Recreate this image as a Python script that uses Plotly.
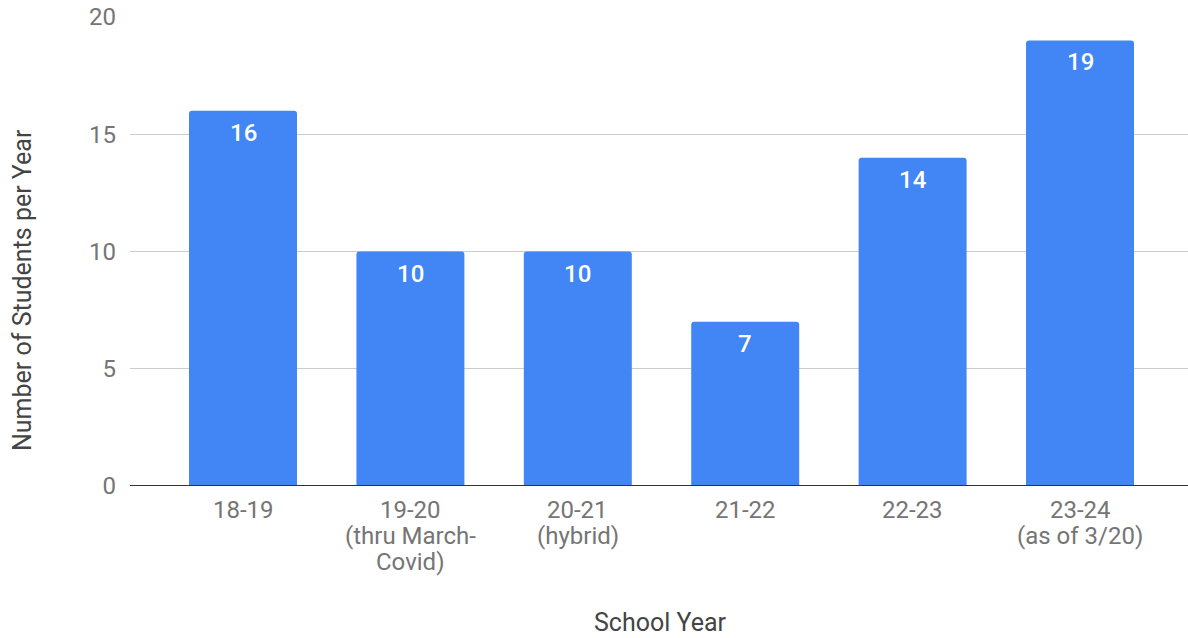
import plotly.graph_objects as go

# School years (one list of lines per category) and student counts
school_years = [
    ["18-19"],
    ["19-20", "(thru March-", "Covid)"],
    ["20-21", "(hybrid)"],
    ["21-22"],
    ["22-23"],
    ["23-24", "(as of 3/20)"],
]
students = [16, 10, 10, 7, 14, 19]
y_ticks = [0, 5, 10, 15, 20]

BAR_BLUE = "#4285F4"
TICK_GREY = "#757575"
TITLE_GREY = "#444444"
FONT = "Roboto, Arial, sans-serif"
FS = 24
TITLE_FS = 25
LINE_H = 26

x_idx = list(range(len(school_years)))

fig = go.Figure()
fig.add_trace(go.Bar(
    x=x_idx,
    y=students,
    marker=dict(color=BAR_BLUE, line=dict(width=0)),
    hoverinfo="skip",
))

# Value labels just inside the top of each bar
for xi, v in zip(x_idx, students):
    fig.add_annotation(
        x=xi, y=v, text=str(v), showarrow=False,
        yanchor="top", yshift=-6,
        font=dict(family=FONT, size=FS, color="white", weight=500),
    )

# Category labels under the axis, tight line spacing
for xi, lines in zip(x_idx, school_years):
    for k, line in enumerate(lines):
        fig.add_annotation(
            x=xi, xref="x", y=0, yref="paper", text=line, showarrow=False,
            xanchor="center", yanchor="middle", yshift=-(24 + k * LINE_H),
            font=dict(family=FONT, size=FS, color=TICK_GREY),
        )

fig.update_layout(
    width=1188, height=638,
    margin=dict(l=130, r=0, t=17, b=152),
    paper_bgcolor="white", plot_bgcolor="white",
    bargap=0.355,
    barcornerradius=3,
    showlegend=False,
    font=dict(family=FONT, size=FS, color=TICK_GREY),
)

fig.update_xaxes(
    range=[-0.675, 5.645],
    showticklabels=False,
    showgrid=False, zeroline=False, showline=False, ticks="",
)

fig.update_yaxes(
    range=[0, 20],
    tickmode="array", tickvals=y_ticks,
    showgrid=True, gridcolor="#cccccc", gridwidth=1,
    zeroline=False, showline=False,
    ticks="", ticklabelstandoff=13,
    tickfont=dict(family=FONT, size=FS, color=TICK_GREY),
)

# Baseline at zero
fig.add_shape(
    type="line", xref="paper", yref="y",
    x0=0, x1=1, y0=0, y1=0,
    line=dict(color="#333333", width=2),
)

# Axis titles
fig.add_annotation(
    text="School Year", xref="paper", yref="paper",
    x=(660 - 130) / 1058, y=-(622 - 486) / 469,
    showarrow=False, xanchor="center", yanchor="middle",
    font=dict(family=FONT, size=TITLE_FS, color=TITLE_GREY),
)
fig.add_annotation(
    text="Number of Students per Year", xref="paper", yref="paper",
    x=-(130 - 22) / 1058, y=(486 - 290) / 469,
    showarrow=False, xanchor="center", yanchor="middle", textangle=-90,
    font=dict(family=FONT, size=TITLE_FS, color=TITLE_GREY),
)

fig.write_html("out.html")
